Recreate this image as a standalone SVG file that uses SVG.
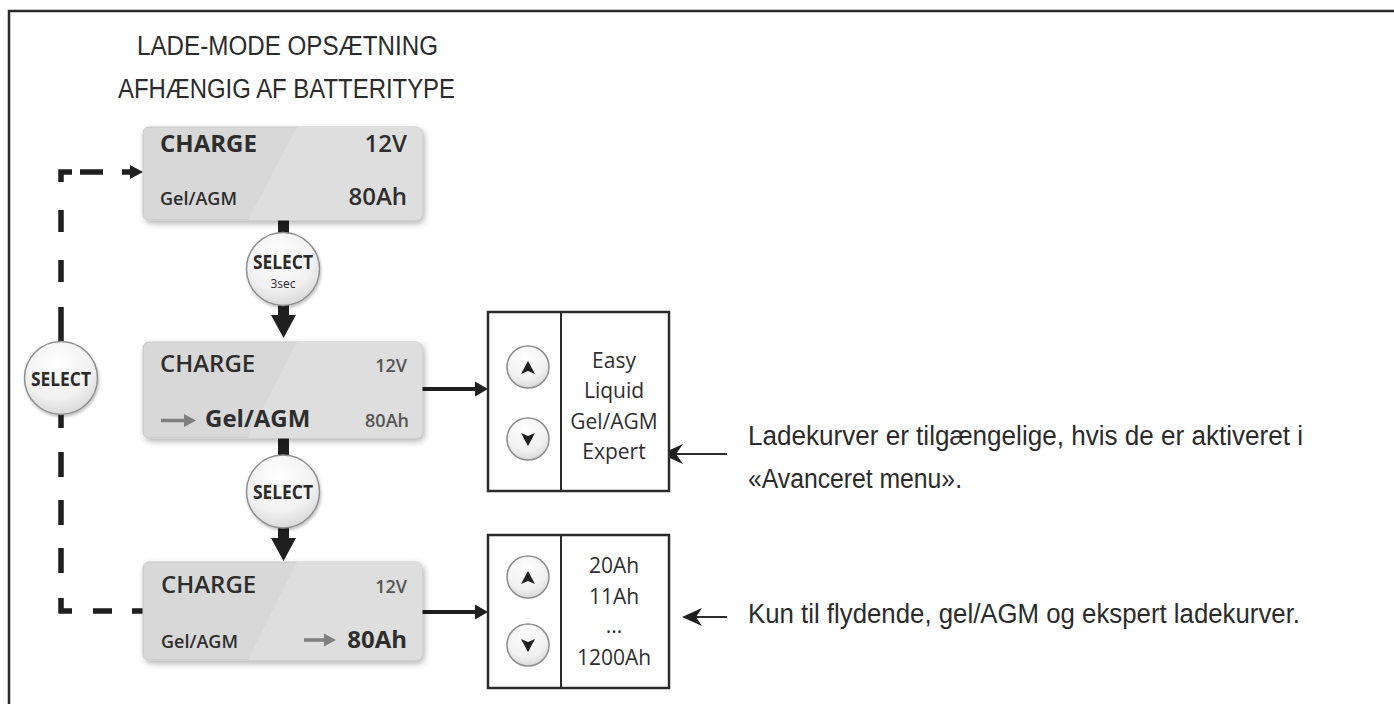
<svg xmlns="http://www.w3.org/2000/svg" width="1394" height="704" viewBox="0 0 1394 704">
<style>
.frame{fill:none;stroke:#2b2b2b;stroke-width:2.5}
.ttl{font-family:"Liberation Sans",Arial,sans-serif;font-size:27px;fill:#2b2b2b}
.ann{font-family:"Liberation Sans",Arial,sans-serif;font-size:27px;fill:#2b2b2b}
.lcd{fill:#d8d8d8;stroke:#c6c6c6;stroke-width:1}
.hl{fill:#dedede}
.lb{font-family:"Open Sans","Noto Sans",sans-serif;font-weight:700;fill:#2e2e2e}
.ls{font-family:"Open Sans","Noto Sans",sans-serif;font-weight:600;fill:#2e2e2e}
.lg{font-family:"Open Sans","Noto Sans",sans-serif;font-weight:600;fill:#555;font-size:18px}
.btn{fill:url(#btnGrad);stroke:#8f8f8f;stroke-width:1.5}
.sel{font-family:"Open Sans","Noto Sans",sans-serif;font-weight:700;font-size:19px;fill:#2b2b2b}
.small{font-family:"Open Sans","Noto Sans",sans-serif;font-weight:400;font-size:12px;fill:#2b2b2b}
.box{fill:#fff;stroke:#2b2b2b;stroke-width:2.5}
.div{stroke:#2b2b2b;stroke-width:2}
.opt{font-family:"Open Sans","Noto Sans",sans-serif;font-size:21px;fill:#2e2e2e;text-anchor:middle}
.dash{fill:none;stroke:#1f1f1f;stroke-width:5.5}
.thick{fill:none;stroke:#1f1f1f;stroke-width:4}
.thin{fill:none;stroke:#2b2b2b;stroke-width:1.8}
.blk{fill:#1f1f1f}
.gray{fill:#7f7f7f}
.tri{fill:#1f1f1f}
</style>
<defs>
<radialGradient id="btnGrad" cx="0.45" cy="0.3" r="0.8">
<stop offset="0" stop-color="#ffffff"/>
<stop offset="0.6" stop-color="#f1f1f1"/>
<stop offset="1" stop-color="#cfcfcf"/>
</radialGradient>
<filter id="sh" x="-10%" y="-20%" width="125%" height="150%">
<feDropShadow dx="2" dy="3" stdDeviation="3" flood-color="#000" flood-opacity="0.3"/>
</filter>
<filter id="sh2" x="-20%" y="-20%" width="140%" height="140%">
<feDropShadow dx="1" dy="2" stdDeviation="1.5" flood-color="#000" flood-opacity="0.25"/>
</filter>
<clipPath id="c1"><rect x="143" y="127" width="279" height="93" rx="6"/></clipPath>
<clipPath id="c2"><rect x="143" y="342" width="279" height="96" rx="6"/></clipPath>
<clipPath id="c3"><rect x="143" y="562" width="279" height="98" rx="6"/></clipPath>
</defs>

<rect width="1394" height="704" fill="#fff"/>
<path class="frame" d="M9 704 V11 H1394"/>

<g id="title">
<text class="ttl" x="287.5" y="55" text-anchor="middle" textLength="301" lengthAdjust="spacingAndGlyphs">LADE-MODE OPSÆTNING</text>
<text class="ttl" x="286.5" y="98" text-anchor="middle" textLength="337" lengthAdjust="spacingAndGlyphs">AFHÆNGIG AF BATTERITYPE</text>
</g>

<g id="connectors">
<path class="dash" d="M132 611 H143 M93 611 H112 M72 611 H61 V598 M61 573 V548 M61 525 V500 M61 477 V452 M61 428 V410 M61 345 V307 M61 282 V260 M61 232 V210 M61 182 V172 H72 M80 172 H103 M122 172 H133"/>
<path class="blk" d="M130 165 L143 172 L130 179 Z"/>
<rect class="blk" x="278" y="219" width="11" height="16"/>
<rect class="blk" x="278" y="303" width="11" height="14"/>
<path class="blk" d="M271 315 H296 L283.5 338 Z"/>
<rect class="blk" x="278" y="437" width="11" height="20"/>
<rect class="blk" x="278" y="526" width="11" height="14"/>
<path class="blk" d="M271 538 H296 L283.5 561 Z"/>
<path class="thick" d="M422 389 H478"/>
<path class="blk" d="M475 381.5 L488 389 L475 396.5 Z"/>
<path class="thick" d="M422 612 H478"/>
<path class="blk" d="M475 604.5 L488 612 L475 619.5 Z"/>
<path class="thin" d="M727 454 H670"/>
<path class="blk" d="M661 454 L683 444 L676 454 L683 464 Z"/>
<path class="thin" d="M727 617 H692"/>
<path class="blk" d="M682 617 L702 608 L696 617 L702 626 Z"/>
</g>

<g id="lcd1">
<rect class="lcd" x="143" y="127" width="279" height="93" rx="6" filter="url(#sh)"/>
<polygon class="hl" clip-path="url(#c1)" points="297,127 430,127 430,220 248,220"/>
<text class="lb" x="160" y="152" font-size="24">CHARGE</text>
<text class="ls" x="407" y="152" font-size="24" text-anchor="end">12V</text>
<text class="ls" x="160" y="205" font-size="18">Gel/AGM</text>
<text class="ls" x="407" y="205" font-size="24" text-anchor="end">80Ah</text>
</g>

<g id="lcd2">
<rect class="lcd" x="143" y="342" width="279" height="96" rx="6" filter="url(#sh)"/>
<polygon class="hl" clip-path="url(#c2)" points="297,342 430,342 430,438 248,438"/>
<text class="ls" x="160" y="372" font-size="24">CHARGE</text>
<text class="lg" x="407" y="372" text-anchor="end">12V</text>
<path d="M161 420.5 H186" stroke="#7f7f7f" stroke-width="3.5"/>
<path class="gray" d="M184 414 L196 420.5 L184 427 Z"/>
<text class="lb" x="205" y="427" font-size="24">Gel/AGM</text>
<text class="lg" x="409" y="427" text-anchor="end">80Ah</text>
</g>

<g id="lcd3">
<rect class="lcd" x="143" y="562" width="279" height="98" rx="6" filter="url(#sh)"/>
<polygon class="hl" clip-path="url(#c3)" points="297,562 430,562 430,660 248,660"/>
<text class="ls" x="161" y="593" font-size="24">CHARGE</text>
<text class="lg" x="407" y="593" text-anchor="end">12V</text>
<text class="ls" x="161" y="648" font-size="18">Gel/AGM</text>
<path d="M304 640 H326" stroke="#7f7f7f" stroke-width="3.5"/>
<path class="gray" d="M324 633.5 L336 640 L324 646.5 Z"/>
<text class="lb" x="407" y="648" font-size="24" text-anchor="end">80Ah</text>
</g>

<g id="select-3sec">
<circle class="btn" cx="283" cy="269" r="36.5" filter="url(#sh2)"/>
<text class="sel" x="283" y="269" text-anchor="middle" textLength="60" lengthAdjust="spacingAndGlyphs">SELECT</text>
<text class="small" x="283" y="288" text-anchor="middle">3sec</text>
</g>

<g id="select-mid">
<circle class="btn" cx="283" cy="491.5" r="36.5" filter="url(#sh2)"/>
<text class="sel" x="283" y="499" text-anchor="middle" textLength="60" lengthAdjust="spacingAndGlyphs">SELECT</text>
</g>

<g id="select-left">
<circle class="btn" cx="61" cy="378" r="36.5" filter="url(#sh2)"/>
<text class="sel" x="61" y="386" text-anchor="middle" textLength="60" lengthAdjust="spacingAndGlyphs">SELECT</text>
</g>

<g id="options-type">
<rect class="box" x="488" y="312" width="181" height="179"/>
<line class="div" x1="561" y1="312" x2="561" y2="491"/>
<circle class="btn" cx="528" cy="367" r="21"/>
<path class="tri" d="M528 361 L535 374 L528 371 L521 374 Z"/>
<circle class="btn" cx="528" cy="439" r="21"/>
<path class="tri" d="M528 446 L535 433 L528 436 L521 433 Z"/>
<text class="opt" x="614" y="368">Easy</text>
<text class="opt" x="614" y="398">Liquid</text>
<text class="opt" x="614" y="429">Gel/AGM</text>
<text class="opt" x="614" y="459">Expert</text>
</g>

<g id="options-capacity">
<rect class="box" x="488" y="535" width="181" height="153"/>
<line class="div" x1="561" y1="535" x2="561" y2="688"/>
<circle class="btn" cx="528" cy="577" r="21"/>
<path class="tri" d="M528 571 L535 584 L528 581 L521 584 Z"/>
<circle class="btn" cx="528" cy="645" r="21"/>
<path class="tri" d="M528 652 L535 639 L528 642 L521 639 Z"/>
<text class="opt" x="614" y="573">20Ah</text>
<text class="opt" x="614" y="604">11Ah</text>
<text class="opt" x="614" y="633">...</text>
<text class="opt" x="614" y="665">1200Ah</text>
</g>

<g id="note-type">
<text class="ann" x="748" y="445" textLength="555" lengthAdjust="spacingAndGlyphs">Ladekurver er tilgængelige, hvis de er aktiveret i</text>
<text class="ann" x="748" y="488" textLength="214" lengthAdjust="spacingAndGlyphs">«Avanceret menu».</text>
</g>

<g id="note-capacity">
<text class="ann" x="748" y="623" textLength="552" lengthAdjust="spacingAndGlyphs">Kun til flydende, gel/AGM og ekspert ladekurver.</text>
</g>
</svg>
